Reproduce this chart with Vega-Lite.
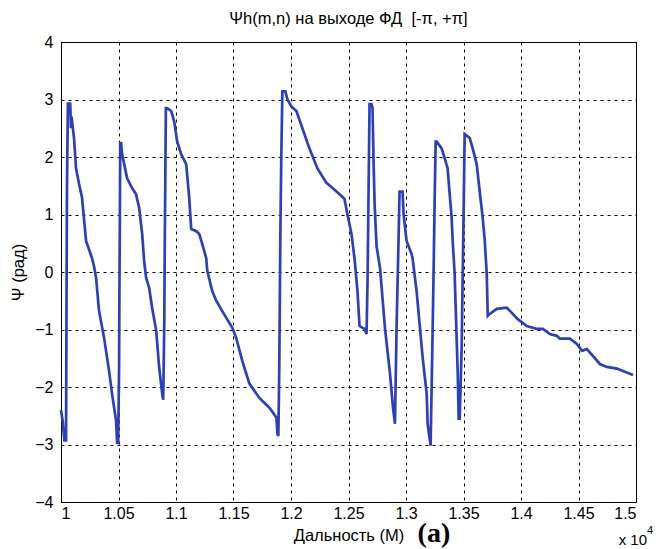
{
  "$schema": "https://vega.github.io/schema/vega-lite/v6.json",
  "width": 575,
  "height": 460,
  "autosize": {"type": "none"},
  "padding": {"left": 61, "top": 42, "right": 21, "bottom": 47},
  "background": "white",
  "title": {
    "text": "Ψh(m,n) на выходе ФД \u00a0[-π, +π]",
    "font": "Liberation Sans",
    "fontSize": 16.5,
    "fontWeight": "normal",
    "color": "black",
    "baseline": "alphabetic",
    "offset": -6
  },
  "config": {
    "font": "Liberation Sans",
    "view": {"stroke": "black", "strokeWidth": 1},
    "axis": {
      "labelFont": "Liberation Sans",
      "labelFontSize": 16,
      "labelColor": "black",
      "titleFont": "Liberation Sans",
      "titleFontSize": 16.5,
      "titleFontWeight": "normal",
      "titleColor": "black",
      "domainColor": "black",
      "ticks": false,
      "grid": true,
      "gridColor": "black",
      "gridOpacity": 1,
      "gridDash": [3, 4],
      "gridWidth": 1
    }
  },
  "datasets": {
    "psi": [
      {"d": 1.0000, "psi": -2.40},
      {"d": 1.0015, "psi": -2.60},
      {"d": 1.0030, "psi": -2.93},
      {"d": 1.0044, "psi": -2.93},
      {"d": 1.0048, "psi": -0.50},
      {"d": 1.0052, "psi": 1.47},
      {"d": 1.0060, "psi": 2.93},
      {"d": 1.0080, "psi": 2.93},
      {"d": 1.0087, "psi": 2.50},
      {"d": 1.0092, "psi": 2.70},
      {"d": 1.0113, "psi": 2.33},
      {"d": 1.0131, "psi": 1.80},
      {"d": 1.0157, "psi": 1.53},
      {"d": 1.0183, "psi": 1.29},
      {"d": 1.0218, "psi": 0.54},
      {"d": 1.0270, "psi": 0.24},
      {"d": 1.0287, "psi": 0.10},
      {"d": 1.0305, "psi": -0.10},
      {"d": 1.0331, "psi": -0.68},
      {"d": 1.0375, "psi": -1.15},
      {"d": 1.0418, "psi": -1.72},
      {"d": 1.0444, "psi": -2.12},
      {"d": 1.0479, "psi": -2.59},
      {"d": 1.0488, "psi": -2.97},
      {"d": 1.0497, "psi": -2.97},
      {"d": 1.0505, "psi": -1.67},
      {"d": 1.0508, "psi": -0.38},
      {"d": 1.0512, "psi": 0.94},
      {"d": 1.0515, "psi": 2.24},
      {"d": 1.0523, "psi": 2.24},
      {"d": 1.0531, "psi": 2.05},
      {"d": 1.0575, "psi": 1.63},
      {"d": 1.0618, "psi": 1.46},
      {"d": 1.0653, "psi": 1.35},
      {"d": 1.0680, "psi": 1.11},
      {"d": 1.0706, "psi": 0.66},
      {"d": 1.0723, "psi": 0.19},
      {"d": 1.0740, "psi": -0.10},
      {"d": 1.0767, "psi": -0.28},
      {"d": 1.0793, "psi": -0.63},
      {"d": 1.0828, "psi": -1.02},
      {"d": 1.0854, "psi": -1.67},
      {"d": 1.0880, "psi": -2.12},
      {"d": 1.0889, "psi": -2.22},
      {"d": 1.0898, "psi": -0.90},
      {"d": 1.0902, "psi": 0.36},
      {"d": 1.0907, "psi": 1.63},
      {"d": 1.0912, "psi": 2.85},
      {"d": 1.0923, "psi": 2.85},
      {"d": 1.0958, "psi": 2.80},
      {"d": 1.0984, "psi": 2.62},
      {"d": 1.1010, "psi": 2.27},
      {"d": 1.1045, "psi": 2.05},
      {"d": 1.1089, "psi": 1.87},
      {"d": 1.1115, "psi": 1.29},
      {"d": 1.1132, "psi": 0.75},
      {"d": 1.1176, "psi": 0.71},
      {"d": 1.1202, "psi": 0.66},
      {"d": 1.1228, "psi": 0.49},
      {"d": 1.1263, "psi": 0.24},
      {"d": 1.1272, "psi": 0.02},
      {"d": 1.1315, "psi": -0.33},
      {"d": 1.1350, "psi": -0.50},
      {"d": 1.1402, "psi": -0.68},
      {"d": 1.1490, "psi": -0.97},
      {"d": 1.1524, "psi": -1.15},
      {"d": 1.1577, "psi": -1.55},
      {"d": 1.1638, "psi": -1.94},
      {"d": 1.1725, "psi": -2.19},
      {"d": 1.1812, "psi": -2.36},
      {"d": 1.1873, "psi": -2.53},
      {"d": 1.1882, "psi": -2.81},
      {"d": 1.1890, "psi": -2.85},
      {"d": 1.1898, "psi": -1.67},
      {"d": 1.1903, "psi": -0.45},
      {"d": 1.1908, "psi": 0.75},
      {"d": 1.1915, "psi": 1.93},
      {"d": 1.1925, "psi": 3.14},
      {"d": 1.1951, "psi": 3.14},
      {"d": 1.1969, "psi": 3.00},
      {"d": 1.2003, "psi": 2.88},
      {"d": 1.2047, "psi": 2.80},
      {"d": 1.2099, "psi": 2.50},
      {"d": 1.2160, "psi": 2.15},
      {"d": 1.2230, "psi": 1.80},
      {"d": 1.2308, "psi": 1.55},
      {"d": 1.2361, "psi": 1.46},
      {"d": 1.2439, "psi": 1.32},
      {"d": 1.2465, "psi": 1.27},
      {"d": 1.2491, "psi": 1.00},
      {"d": 1.2526, "psi": 0.66},
      {"d": 1.2552, "psi": 0.24},
      {"d": 1.2578, "psi": -0.33},
      {"d": 1.2596, "psi": -0.94},
      {"d": 1.2639, "psi": -0.99},
      {"d": 1.2657, "psi": -1.08},
      {"d": 1.2666, "psi": -0.10},
      {"d": 1.2675, "psi": 1.50},
      {"d": 1.2683, "psi": 2.92},
      {"d": 1.2700, "psi": 2.92},
      {"d": 1.2709, "psi": 2.85},
      {"d": 1.2718, "psi": 1.93},
      {"d": 1.2727, "psi": 1.18},
      {"d": 1.2744, "psi": 0.45},
      {"d": 1.2774, "psi": 0.07},
      {"d": 1.2817, "psi": -0.97},
      {"d": 1.2861, "psi": -1.77},
      {"d": 1.2887, "psi": -2.36},
      {"d": 1.2904, "psi": -2.64},
      {"d": 1.2918, "psi": -0.97},
      {"d": 1.2935, "psi": 0.54},
      {"d": 1.2944, "psi": 1.40},
      {"d": 1.2970, "psi": 1.40},
      {"d": 1.2979, "psi": 1.00},
      {"d": 1.3005, "psi": 0.54},
      {"d": 1.3049, "psi": 0.31},
      {"d": 1.3057, "psi": 0.24},
      {"d": 1.3092, "psi": -0.33},
      {"d": 1.3118, "psi": -0.90},
      {"d": 1.3145, "psi": -1.49},
      {"d": 1.3180, "psi": -2.12},
      {"d": 1.3188, "psi": -2.64},
      {"d": 1.3214, "psi": -3.02},
      {"d": 1.3232, "psi": -0.97},
      {"d": 1.3241, "psi": 0.14},
      {"d": 1.3249, "psi": 1.23},
      {"d": 1.3258, "psi": 2.27},
      {"d": 1.3267, "psi": 2.27},
      {"d": 1.3310, "psi": 2.15},
      {"d": 1.3336, "psi": 1.98},
      {"d": 1.3362, "psi": 1.80},
      {"d": 1.3380, "psi": 1.35},
      {"d": 1.3397, "psi": 0.94},
      {"d": 1.3406, "psi": 0.54},
      {"d": 1.3423, "psi": -0.03},
      {"d": 1.3450, "psi": -1.77},
      {"d": 1.3458, "psi": -2.55},
      {"d": 1.3467, "psi": -2.55},
      {"d": 1.3484, "psi": -1.32},
      {"d": 1.3502, "psi": 1.18},
      {"d": 1.3510, "psi": 2.40},
      {"d": 1.3554, "psi": 2.33},
      {"d": 1.3580, "psi": 2.15},
      {"d": 1.3615, "psi": 1.87},
      {"d": 1.3641, "psi": 1.40},
      {"d": 1.3667, "psi": 0.94},
      {"d": 1.3685, "psi": 0.54},
      {"d": 1.3702, "psi": -0.03},
      {"d": 1.3711, "psi": -0.76},
      {"d": 1.3728, "psi": -0.73},
      {"d": 1.3789, "psi": -0.64},
      {"d": 1.3876, "psi": -0.62},
      {"d": 1.3920, "psi": -0.71},
      {"d": 1.3972, "psi": -0.82},
      {"d": 1.4051, "psi": -0.94},
      {"d": 1.4138, "psi": -0.99},
      {"d": 1.4190, "psi": -0.99},
      {"d": 1.4251, "psi": -1.08},
      {"d": 1.4312, "psi": -1.11},
      {"d": 1.4338, "psi": -1.16},
      {"d": 1.4425, "psi": -1.16},
      {"d": 1.4486, "psi": -1.25},
      {"d": 1.4530, "psi": -1.37},
      {"d": 1.4573, "psi": -1.34},
      {"d": 1.4625, "psi": -1.46},
      {"d": 1.4686, "psi": -1.60},
      {"d": 1.4747, "psi": -1.65},
      {"d": 1.4834, "psi": -1.68},
      {"d": 1.4887, "psi": -1.72},
      {"d": 1.4974, "psi": -1.79}
    ],
    "notes": [
      {"label": "(a)", "d": 1.3243, "psi": -4}
    ],
    "scale": [
      {"label": "x 10", "d": 1.5, "psi": -4}
    ],
    "exp": [
      {"label": "4", "d": 1.5, "psi": -4}
    ]
  },
  "layer": [
    {
      "data": {"name": "psi"},
      "mark": {"type": "line", "color": "#2b3fc0", "strokeWidth": 2.7, "strokeJoin": "miter"},
      "encoding": {
        "x": {
          "field": "d",
          "type": "quantitative",
          "scale": {"domain": [1, 1.5], "nice": false, "zero": false},
          "axis": {
            "values": [1, 1.05, 1.1, 1.15, 1.2, 1.25, 1.3, 1.35, 1.4, 1.45, 1.5],
            "format": "~g",
            "labelPadding": 3,
            "title": "Дальность (М)",
            "titleY": 38,
            "titleBaseline": "alphabetic"
          }
        },
        "y": {
          "field": "psi",
          "type": "quantitative",
          "scale": {"domain": [-4, 4], "nice": false, "zero": false},
          "axis": {
            "values": [-4, -3, -2, -1, 0, 1, 2, 3, 4],
            "format": "d",
            "labelPadding": 8,
            "title": "Ψ (рад)",
            "titleX": -43,
            "titleY": 230,
            "titleAngle": -90,
            "titleAlign": "center",
            "titleBaseline": "middle"
          }
        }
      }
    },
    {
      "data": {"name": "notes"},
      "mark": {"type": "text", "font": "Liberation Serif", "fontWeight": "bold", "fontSize": 28, "baseline": "alphabetic", "align": "center", "dy": 40, "color": "black"},
      "encoding": {
        "x": {"field": "d", "type": "quantitative"},
        "y": {"field": "psi", "type": "quantitative"},
        "text": {"field": "label"}
      }
    },
    {
      "data": {"name": "scale"},
      "mark": {"type": "text", "font": "Liberation Sans", "fontSize": 15, "baseline": "alphabetic", "align": "right", "dx": 11, "dy": 43, "color": "black"},
      "encoding": {
        "x": {"field": "d", "type": "quantitative"},
        "y": {"field": "psi", "type": "quantitative"},
        "text": {"field": "label"}
      }
    },
    {
      "data": {"name": "exp"},
      "mark": {"type": "text", "font": "Liberation Sans", "fontSize": 11, "baseline": "alphabetic", "align": "left", "dx": 11, "dy": 32, "color": "black"},
      "encoding": {
        "x": {"field": "d", "type": "quantitative"},
        "y": {"field": "psi", "type": "quantitative"},
        "text": {"field": "label"}
      }
    }
  ]
}
